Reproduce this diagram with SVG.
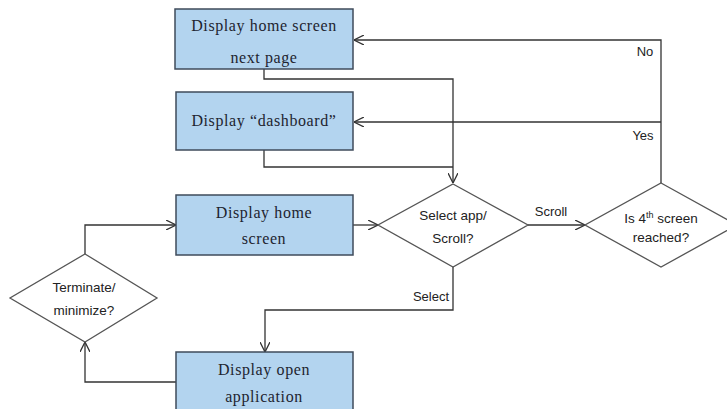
<svg xmlns="http://www.w3.org/2000/svg" width="727" height="409" viewBox="0 0 727 409">
  <style>
    .box { fill: #b3d4ef; stroke: #3f4b5b; stroke-width: 1.5; }
    .dia { fill: #ffffff; stroke: #555555; stroke-width: 1.3; }
    .btxt { font-family: "Liberation Serif", "DejaVu Serif", serif; font-size: 16px; letter-spacing: 0.6px; fill: #1e2430; text-anchor: middle; }
    .dtxt { font-family: "Liberation Sans", Arial, sans-serif; font-size: 13.5px; fill: #222222; text-anchor: middle; }
    .lbl { font-family: "Liberation Sans", Arial, sans-serif; font-size: 13px; fill: #222222; text-anchor: middle; }
    .wire { fill: none; stroke: #333333; stroke-width: 1.3; }
  </style>
  <defs>
    <marker id="arrow" viewBox="0 0 10 10" refX="10" refY="5" markerWidth="10" markerHeight="10" markerUnits="userSpaceOnUse" orient="auto">
      <path d="M0,0 L10,5 L0,10" fill="none" stroke="#333333" stroke-width="1.3"/>
    </marker>
  </defs>
  <rect width="727" height="409" fill="#ffffff"/>

  <g id="connectors">
    <!-- next page -> decision -->
    <polyline class="wire" points="264,69 264,79 453,79 453,183" marker-end="url(#arrow)"/>
    <!-- dashboard -> decision -->
    <polyline class="wire" points="264,150 264,167 453,167"/>
    <!-- home screen -> select/scroll -->
    <line class="wire" x1="353" y1="225" x2="378" y2="225" marker-end="url(#arrow)"/>
    <!-- scroll -> 4th screen check -->
    <line class="wire" x1="528" y1="225" x2="585" y2="225" marker-end="url(#arrow)"/>
    <!-- no -> next page -->
    <polyline class="wire" points="661,183 661,40 354,40" marker-end="url(#arrow)"/>
    <!-- yes -> dashboard -->
    <polyline class="wire" points="661,122 354,122" marker-end="url(#arrow)"/>
    <!-- select -> open application -->
    <polyline class="wire" points="453,267 453,310 265,310 265,352" marker-end="url(#arrow)"/>
    <!-- open application -> terminate -->
    <polyline class="wire" points="176,382 85,382 85,342" marker-end="url(#arrow)"/>
    <!-- terminate -> home screen -->
    <polyline class="wire" points="85,254 85,225 176,225" marker-end="url(#arrow)"/>
    <text class="lbl" x="551" y="216">Scroll</text>
    <text class="lbl" x="645" y="56">No</text>
    <text class="lbl" x="643" y="140">Yes</text>
    <text class="lbl" x="431" y="301">Select</text>
  </g>

  <g id="next-page">
    <rect class="box" x="175" y="9" width="178" height="60"/>
    <text class="btxt" x="264" y="31">Display home screen</text>
    <text class="btxt" x="264" y="63">next page</text>
  </g>

  <g id="dashboard">
    <rect class="box" x="176" y="92" width="177" height="58"/>
    <text class="btxt" x="264" y="126">Display “dashboard”</text>
  </g>

  <g id="home-screen">
    <rect class="box" x="176" y="195" width="177" height="60"/>
    <text class="btxt" x="264" y="218">Display home</text>
    <text class="btxt" x="264" y="244">screen</text>
  </g>

  <g id="open-application">
    <rect class="box" x="176" y="352" width="177" height="62"/>
    <text class="btxt" x="264" y="375">Display open</text>
    <text class="btxt" x="264" y="402">application</text>
  </g>

  <g id="select-scroll">
    <polygon class="dia" points="453,184 528,225 453,267 378,225"/>
    <text class="dtxt" x="453" y="220">Select app/</text>
    <text class="dtxt" x="453" y="243">Scroll?</text>
  </g>

  <g id="fourth-screen">
    <polygon class="dia" points="661,183 737,225 661,267 585,225"/>
    <text class="dtxt" x="661" y="223">Is 4<tspan font-size="9" dy="-5">th</tspan><tspan dy="5"> screen</tspan></text>
    <text class="dtxt" x="661" y="242">reached?</text>
  </g>

  <g id="terminate">
    <polygon class="dia" points="85,254 157,298 85,342 10,298"/>
    <text class="dtxt" x="84" y="292">Terminate/</text>
    <text class="dtxt" x="84" y="315">minimize?</text>
  </g>
</svg>
